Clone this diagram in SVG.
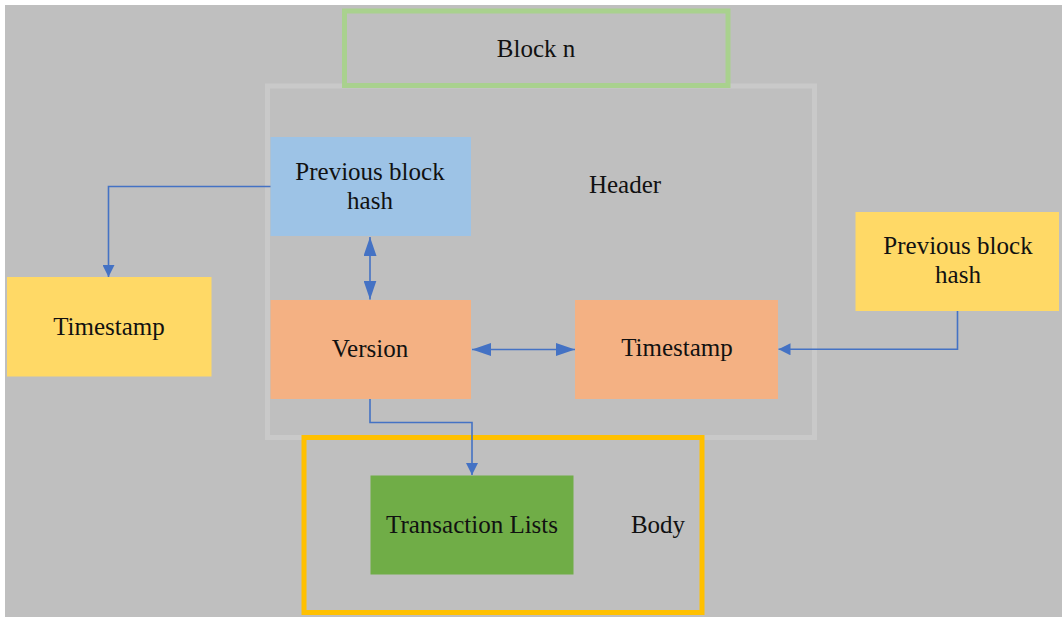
<svg xmlns="http://www.w3.org/2000/svg" width="1062" height="617" viewBox="0 0 1062 617">
<style>
.t{font-family:'Liberation Serif','Times New Roman',serif;font-size:25px;fill:#111;text-anchor:middle}
.conn{fill:none;stroke:#4472C4;stroke-width:1.6}
</style>
<defs>
<marker id="ah" markerUnits="userSpaceOnUse" markerWidth="12" markerHeight="12" refX="12" refY="6" orient="auto-start-reverse" viewBox="0 0 12 12"><path d="M0,0 L12,6 L0,12 z" fill="#4472C4"/></marker>
<marker id="ahl" markerUnits="userSpaceOnUse" markerWidth="19" markerHeight="13" refX="19" refY="6.5" orient="auto-start-reverse" viewBox="0 0 19 13"><path d="M0,0 L19,6.5 L0,13 z" fill="#4472C4"/></marker>
</defs>
<rect x="0" y="0" width="1062" height="617" fill="#ffffff"/>
<rect x="5" y="5" width="1057" height="612" fill="#BFBFBF"/>
<g id="header">
<rect x="267.5" y="86" width="547" height="351.5" fill="none" stroke="#C9C9C9" stroke-width="5"/>
<text class="t" x="625" y="193">Header</text>
</g>
<g id="block-n">
<rect x="344.5" y="11" width="383.5" height="74.5" fill="none" stroke="#A9D18E" stroke-width="5"/>
<text class="t" x="536" y="57">Block n</text>
</g>
<g id="body">
<rect x="304" y="437.5" width="398" height="175" fill="none" stroke="#FFC000" stroke-width="5"/>
<text class="t" x="658" y="533">Body</text>
</g>
<g id="prev-hash-inner">
<rect x="270.5" y="137" width="200.5" height="99" fill="#9DC3E6"/>
<text class="t" x="370" y="180">Previous block</text>
<text class="t" x="370" y="208.5">hash</text>
</g>
<g id="version">
<rect x="270.5" y="300" width="200.5" height="99" fill="#F4B183"/>
<text class="t" x="370" y="357">Version</text>
</g>
<g id="timestamp-inner">
<rect x="575" y="300" width="203" height="99" fill="#F4B183"/>
<text class="t" x="677" y="356">Timestamp</text>
</g>
<g id="timestamp-left">
<rect x="7" y="277" width="204.5" height="99.5" fill="#FFD966"/>
<text class="t" x="109" y="335">Timestamp</text>
</g>
<g id="prev-hash-right">
<rect x="855.5" y="212" width="203.5" height="99" fill="#FFD966"/>
<text class="t" x="958" y="254">Previous block</text>
<text class="t" x="958" y="283">hash</text>
</g>
<g id="transaction-lists">
<rect x="370.5" y="475.5" width="203" height="99" fill="#70AD47"/>
<text class="t" x="472" y="533">Transaction Lists</text>
</g>
<g id="connectors">
<path class="conn" d="M270.5,186.5 H108.5 V277" marker-end="url(#ah)"/>
<path class="conn" d="M370,237 V299.5" marker-start="url(#ahl)" marker-end="url(#ahl)"/>
<path class="conn" d="M472,349.5 H575" marker-start="url(#ahl)" marker-end="url(#ahl)"/>
<path class="conn" d="M957.5,311 V349.3 H778.5" marker-end="url(#ah)"/>
<path class="conn" d="M370,399 V422.5 H472 V475" marker-end="url(#ah)"/>
</g>
</svg>
